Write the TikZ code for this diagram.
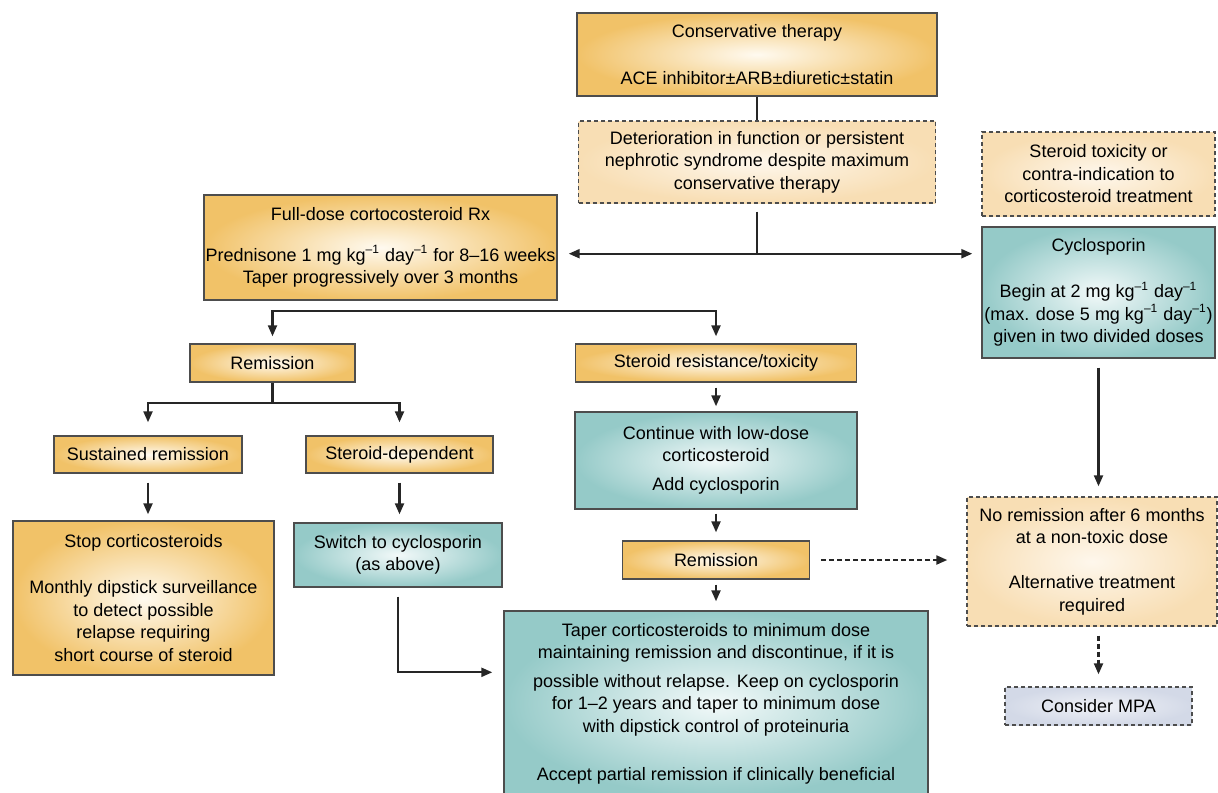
\documentclass[tikz,border=0pt]{standalone}
\usepackage{fontspec}
\setmainfont{Liberation Sans}
\usetikzlibrary{arrows, arrows.meta}
\usetikzlibrary{calc}

\definecolor{goldedge}{HTML}{F1C268}
\definecolor{goldmid}{HTML}{FFFAF0}
\definecolor{tealedge}{HTML}{95CAC8}
\definecolor{tealmid}{HTML}{F2F9F9}
\definecolor{peachedge}{HTML}{F8DEB4}
\definecolor{peachmid}{HTML}{FEF7EC}
\definecolor{mpaedge}{HTML}{D3D9E7}
\definecolor{mpamid}{HTML}{F0F2F7}
\definecolor{rim}{HTML}{4D4D4D}
\definecolor{wire}{HTML}{262626}

\tikzset{
  box/.style={draw=rim, line width=0.7pt, inner sep=0pt, align=center,
    font={\fontsize{9}{11.25}\selectfont}},
  goldbox/.style={box, shading=radial, inner color=goldmid, outer color=goldedge},
  tealbox/.style={box, shading=radial, inner color=tealmid, outer color=tealedge},
  notebox/.style={box, dash pattern=on 2pt off 1.5pt, shading=radial,
    inner color=peachmid, outer color=peachedge},
  mpabox/.style={box, dash pattern=on 2pt off 1.5pt, shading=radial,
    inner color=mpamid, outer color=mpaedge},
  link/.style={draw=wire, line width=1.1pt},
  arr/.style={link, ->},
  darr/.style={link, ->, dash pattern=on 2.5pt off 1.5pt},
  >={Triangle[length=5.5pt,width=4.5pt]}
}

\newcommand{\perkg}{kg\textsuperscript{\textendash1} day\textsuperscript{\textendash1}}

\begin{document}
\begin{tikzpicture}[x=0.5pt, y=-0.5pt]
  \useasboundingbox (0,0) rectangle (1218,792);

  % top of the chart
  \node[goldbox, minimum width=180pt, minimum height=41.5pt] (cons) at (757,54.5)
    {Conservative therapy\\[12.25pt]ACE inhibitor±ARB±diuretic±statin};
  \node[notebox, minimum width=178.5pt, minimum height=41pt] (det) at (757,162)
    {Deterioration in function or persistent\\nephrotic syndrome despite maximum\\conservative therapy};
  \node[notebox, minimum width=116.5pt, minimum height=42pt] (stox) at (1098.5,174)
    {Steroid toxicity or\\contra-indication to\\corticosteroid treatment};
  \node[tealbox, minimum width=116.5pt, minimum height=65.5pt] (cyc) at (1098.5,292.5)
    {Cyclosporin\\[11.75pt]Begin at 2 mg \perkg\\(max. dose 5 mg \perkg)\\given in two divided doses};
  \node[goldbox, minimum width=176.5pt, minimum height=52.5pt] (full) at (380.5,247.5)
    {Full-dose cortocosteroid Rx\\[9.25pt]Prednisone 1 mg \perkg{} for 8\textendash16 weeks\\Taper progressively over 3 months};

  % second level
  \node[goldbox, minimum width=82.5pt, minimum height=19pt] (rem1) at (272.5,363) {Remission};
  \node[goldbox, minimum width=140.5pt, minimum height=19pt] (sres) at (716,363) {Steroid resistance/toxicity};
  \node[goldbox, minimum width=94pt, minimum height=18.5pt] (sust) at (148,454.5) {Sustained remission};
  \node[goldbox, minimum width=93.5pt, minimum height=18.5pt] (sdep) at (399.5,454.5) {Steroid-dependent};
  \node[goldbox, minimum width=130.5pt, minimum height=77pt] (stop) at (143.5,598)
    {Stop corticosteroids\\[11.75pt]Monthly dipstick surveillance\\to detect possible\\relapse requiring\\short course of steroid};
  \node[tealbox, minimum width=104pt, minimum height=32pt] (switch) at (398,555)
    {Switch to cyclosporin\\(as above)};
  \node[tealbox, minimum width=141pt, minimum height=48.5pt] (cont) at (716,460.5)
    {Continue with low-dose\\corticosteroid\\[3.25pt]Add cyclosporin};
  \node[goldbox, minimum width=93.5pt, minimum height=19pt] (rem2) at (716,560) {Remission};
  \node[tealbox, minimum width=212pt, minimum height=92.5pt] (big) at (716,703.5)
    {Taper corticosteroids to minimum dose\\maintaining remission and discontinue, if it is\\[3pt]possible without relapse. Keep on cyclosporin\\for 1\textendash2 years and taper to minimum dose\\with dipstick control of proteinuria\\[12.75pt]Accept partial remission if clinically beneficial};
  \node[notebox, minimum width=125pt, minimum height=64.5pt] (norem) at (1092,561.5)
    {No remission after 6 months\\at a non-toxic dose\\[11.25pt]Alternative treatment\\required};
  \node[mpabox, minimum width=93.5pt, minimum height=19pt] (mpa) at (1098.5,706) {Consider MPA};

  \coordinate (jn) at ($(det.south)+(0,50)$);
  \coordinate (fsplit) at ($(full.south)+(0,10)$);
  \coordinate (rsplit) at ($(rem1.south)+(0,20)$);
  \coordinate (bigin) at ($(big.north west)+(0,62)$);

  \draw[link] (cons.south) -- (cons.south |- det.north);
  \draw[link, shorten <=4pt] (det.south) -- (jn);
  \draw[link, <->, shorten <=5.5pt, shorten >=4.5pt] (full.east |- jn) -- (cyc.west |- jn);
  \draw[link, <->, shorten <=3.5pt, shorten >=3.5pt] (rem1.north) |- (fsplit) -| (sres.north);
  \draw[link] (rem1.south) -- (rsplit);
  \draw[link, <->, shorten <=6.5pt, shorten >=6.5pt] (sust.north) |- (rsplit) -| (sdep.north);
  \draw[arr, shorten <=4.5pt, shorten >=3pt] (sust.south) -- (sust.south |- stop.north);
  \draw[arr, shorten <=4.5pt, shorten >=4pt] (sdep.south) -- (sdep.south |- switch.north);
  \draw[arr, shorten <=4.5pt, shorten >=5.5pt] (switch.south) |- (bigin);
  \draw[arr, shorten <=2.5pt, shorten >=2.5pt] (sres.south) -- (cont.north);
  \draw[arr, shorten <=2pt, shorten >=4pt] (cont.south) -- (rem2.north);
  \draw[arr, shorten <=2.5pt, shorten >=4.5pt] (rem2.south) -- (big.north);
  \draw[darr, shorten <=5.5pt, shorten >=9.5pt] (rem2.east) -- (rem2.east -| norem.west);
  \draw[arr, shorten <=4.5pt, shorten >=5pt] (cyc.south) -- (cyc.south |- norem.north);
  \draw[darr, shorten <=4.5pt, shorten >=6pt] (mpa.north |- norem.south) -- (mpa.north);
\end{tikzpicture}
\end{document}
